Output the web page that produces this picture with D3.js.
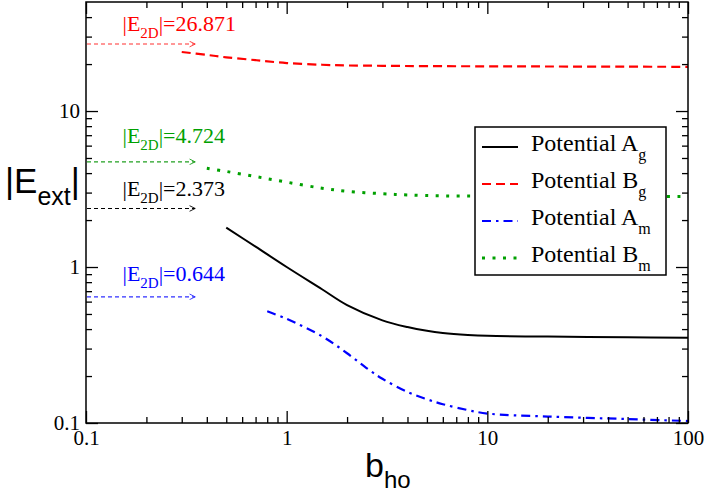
<!DOCTYPE html>
<html>
<head>
<meta charset="utf-8">
<script src="https://cdn.jsdelivr.net/npm/d3@7"></script>
<style>
  body { margin: 0; background: #fff; }
  svg { display: block; }
  .serif { font-family: "Liberation Serif", "Times New Roman", serif; }
  .sans { font-family: "Liberation Sans", Arial, sans-serif; }
</style>
</head>
<body>
<svg id="chart" width="706" height="492"></svg>
<script>
// values
let agX = [0.5, 0.7, 1, 1.5, 2, 3, 4, 5, 6, 8, 10, 20, 50, 100];
let agY = [1.79, 1.35, 1.0, 0.72, 0.57, 0.455, 0.412, 0.39, 0.378, 0.367, 0.362, 0.358, 0.355, 0.352];

let bgX = [0.3, 0.4, 0.5, 0.7, 1, 1.5, 2, 3, 5, 10, 20, 50, 100];
let bgY = [23.9, 22.9, 22.1, 21.2, 20.3, 19.8, 19.6, 19.5, 19.4, 19.35, 19.3, 19.25, 19.2];

let amX = [0.8, 1, 1.5, 2, 2.5, 3, 4, 5, 6, 8, 10, 20, 50, 100];
let amY = [0.52, 0.465, 0.36, 0.28, 0.225, 0.192, 0.158, 0.142, 0.132, 0.121, 0.115, 0.11, 0.106, 0.103];

let bmX = [0.4, 0.5, 0.7, 1, 1.5, 2, 3, 4, 6, 10, 20, 50, 100];
let bmY = [4.3, 4.1, 3.8, 3.5, 3.2, 3.06, 2.95, 2.9, 2.86, 2.85, 2.84, 2.83, 2.83];

// |E_2D| reference values (arrows) and where their labels sit
let e2dValues = [26.871, 4.724, 2.373, 0.644];
let e2dLabelY = [32.4, 6.2, 2.84, 0.81];
let arrowEndX = 0.35;
let labelStartX = 0.152;

let xMajor = [0.1, 1, 10, 100];
let yMajor = [0.1, 1, 10];
let xTickLabels = ['0.1', '1', '10', '100'];
let yTickLabels = ['0.1', '1', '10'];

let seriesNames = ['A', 'B', 'A', 'B'];
let seriesSubs = ['g', 'g', 'm', 'm'];

// geometry
let width = 706, height = 492;
let margin = {left: 86, right: 18, top: 2, bottom: 69};
let plotW = width - margin.left - margin.right;
let plotH = height - margin.top - margin.bottom;

let x = d3.scaleLog().domain([0.1, 100]).range([0, plotW]);
let y = d3.scaleLog().domain([0.1, 50]).range([plotH, 0]);

let svg = d3.select('#chart');
let g = svg.append('g').attr('transform', `translate(${margin.left},${margin.top})`);

// minor ticks: 2..9 of every decade inside the domain
function minors(domain) {
    let out = [];
    for (let p = -1; p <= 2; p++) {
        for (let k = 2; k <= 9; k++) {
            let v = k * Math.pow(10, p);
            if (v > domain[0] && v < domain[1]) out.push(+v.toPrecision(3));
        }
    }
    return out;
}
let xMinor = minors(x.domain());
let yMinor = minors(y.domain());

let styleSeries = [
    {color: '#000000', dash: null, width: 2},
    {color: '#ff0000', dash: '9,5', width: 2.2},
    {color: '#0000ff', dash: '9,5,2.5,5', width: 2.2},
    {color: '#00a000', dash: '3,7.5', width: 3}
];

let colours = ['#ff0000', '#00a000', '#000000', '#0000ff'];
let arrowColours = ['#ff3030', '#20a020', '#000000', '#3030ff'];

// arrowhead markers
let defs = svg.append('defs');
arrowColours.forEach((c, i) => {
    defs.append('marker')
        .attr('id', 'arr' + i)
        .attr('viewBox', '0 0 10 10')
        .attr('refX', 9).attr('refY', 5)
        .attr('markerWidth', 7).attr('markerHeight', 7)
        .attr('markerUnits', 'userSpaceOnUse')
        .attr('orient', 'auto')
        .append('path')
        .attr('d', 'M1,1 L9,5 L1,9')
        .attr('fill', 'none')
        .attr('stroke', c)
        .attr('stroke-width', 1.3);
});

// curves
let line = d3.line().x(d => x(d[0])).y(d => y(d[1])).curve(d3.curveCatmullRom.alpha(0.5));
let allSeries = [
    d3.zip(agX, agY),
    d3.zip(bgX, bgY),
    d3.zip(amX, amY),
    d3.zip(bmX, bmY)
];

g.selectAll('path.series')
    .data(allSeries)
    .join('path')
    .attr('class', 'series')
    .attr('d', line)
    .attr('fill', 'none')
    .attr('stroke', (d, i) => styleSeries[i].color)
    .attr('stroke-width', (d, i) => styleSeries[i].width)
    .attr('stroke-dasharray', (d, i) => styleSeries[i].dash);

// arrows for |E_2D|
g.selectAll('line.arrow')
    .data(e2dValues)
    .join('line')
    .attr('class', 'arrow')
    .attr('x1', x(0.1) + 1)
    .attr('x2', x(arrowEndX))
    .attr('y1', d => y(d))
    .attr('y2', d => y(d))
    .attr('stroke', (d, i) => arrowColours[i])
    .attr('stroke-width', 1.1)
    .attr('stroke-dasharray', '4,3')
    .attr('marker-end', (d, i) => `url(#arr${i})`);

let lab = g.selectAll('text.e2d')
    .data(e2dValues)
    .join('text')
    .attr('class', 'e2d serif')
    .attr('x', x(labelStartX))
    .attr('y', (d, i) => y(e2dLabelY[i]))
    .attr('fill', (d, i) => colours[i])
    .style('font-size', '22px');
lab.append('tspan').text('|E');
lab.append('tspan').attr('dy', 7).style('font-size', '15px').text('2D');
lab.append('tspan').attr('dy', -7).text(d => '|=' + d3.format('.3f')(d));

// legend
let lg = g.append('g').attr('transform', `translate(${475 - margin.left},${127 - margin.top})`);
lg.append('rect')
    .attr('width', 191).attr('height', 148)
    .attr('fill', '#fff').attr('stroke', '#000').attr('stroke-width', 1.5);
let rows = lg.selectAll('g.row')
    .data(seriesNames)
    .join('g')
    .attr('class', 'row')
    .attr('transform', (d, i) => `translate(0,${24 + i * 37})`);
rows.append('line')
    .attr('x1', 7).attr('x2', 43)
    .attr('y1', -4).attr('y2', -4)
    .attr('stroke', (d, i) => styleSeries[i].color)
    .attr('stroke-width', (d, i) => styleSeries[i].width)
    .attr('stroke-dasharray', (d, i) => styleSeries[i].dash);
let rt = rows.append('text')
    .attr('class', 'serif')
    .attr('x', 56)
    .style('font-size', '24px');
rt.append('tspan').text(d => 'Potential ' + d);
rt.append('tspan').attr('dy', 9).style('font-size', '16px').text((d, i) => seriesSubs[i]);

// frame
g.append('rect')
    .attr('width', plotW).attr('height', plotH)
    .attr('fill', 'none').attr('stroke', '#000').attr('stroke-width', 1.5);

// axes: bottom/left labelled, top/right mirrored
function styleAxis(sel) {
    sel.select('.domain').remove();
    sel.selectAll('line').attr('stroke', '#000').attr('stroke-width', 1.3);
    sel.selectAll('text')
        .attr('class', 'serif')
        .attr('fill', '#000')
        .style('font-size', '21px');
}

let xAxisMajor = d3.axisBottom(x).tickValues(xMajor).tickSize(-12).tickPadding(7)
    .tickFormat((d, i) => xTickLabels[i]);
let xAxisMinor = d3.axisBottom(x).tickValues(xMinor).tickSize(-6).tickFormat('');
let yAxisMajor = d3.axisLeft(y).tickValues(yMajor).tickSize(-12).tickPadding(6)
    .tickFormat((d, i) => yTickLabels[i]);
let yAxisMinor = d3.axisLeft(y).tickValues(yMinor).tickSize(-6).tickFormat('');

g.append('g').attr('transform', `translate(0,${plotH})`).call(xAxisMajor).call(styleAxis);
g.append('g').attr('transform', `translate(0,${plotH})`).call(xAxisMinor).call(styleAxis);
g.append('g').call(yAxisMajor).call(styleAxis);
g.append('g').call(yAxisMinor).call(styleAxis);

g.append('g').call(d3.axisTop(x).tickValues(xMajor).tickSize(-12).tickFormat('')).call(styleAxis);
g.append('g').call(d3.axisTop(x).tickValues(xMinor).tickSize(-6).tickFormat('')).call(styleAxis);
g.append('g').attr('transform', `translate(${plotW},0)`)
    .call(d3.axisRight(y).tickValues(yMajor).tickSize(-12).tickFormat('')).call(styleAxis);
g.append('g').attr('transform', `translate(${plotW},0)`)
    .call(d3.axisRight(y).tickValues(yMinor).tickSize(-6).tickFormat('')).call(styleAxis);

// axis titles
let yt = svg.append('text')
    .attr('class', 'sans')
    .attr('x', 5).attr('y', 193)
    .style('font-size', '35px');
yt.append('tspan').text('|E');
yt.append('tspan').attr('dy', 12).style('font-size', '25px').text('ext');
yt.append('tspan').attr('dy', -12).text('|');

let xt = svg.append('text')
    .attr('class', 'sans')
    .attr('x', 365).attr('y', 477)
    .style('font-size', '34px');
xt.append('tspan').text('b');
xt.append('tspan').attr('dy', 11).style('font-size', '24px').text('ho');
</script>
</body>
</html>
